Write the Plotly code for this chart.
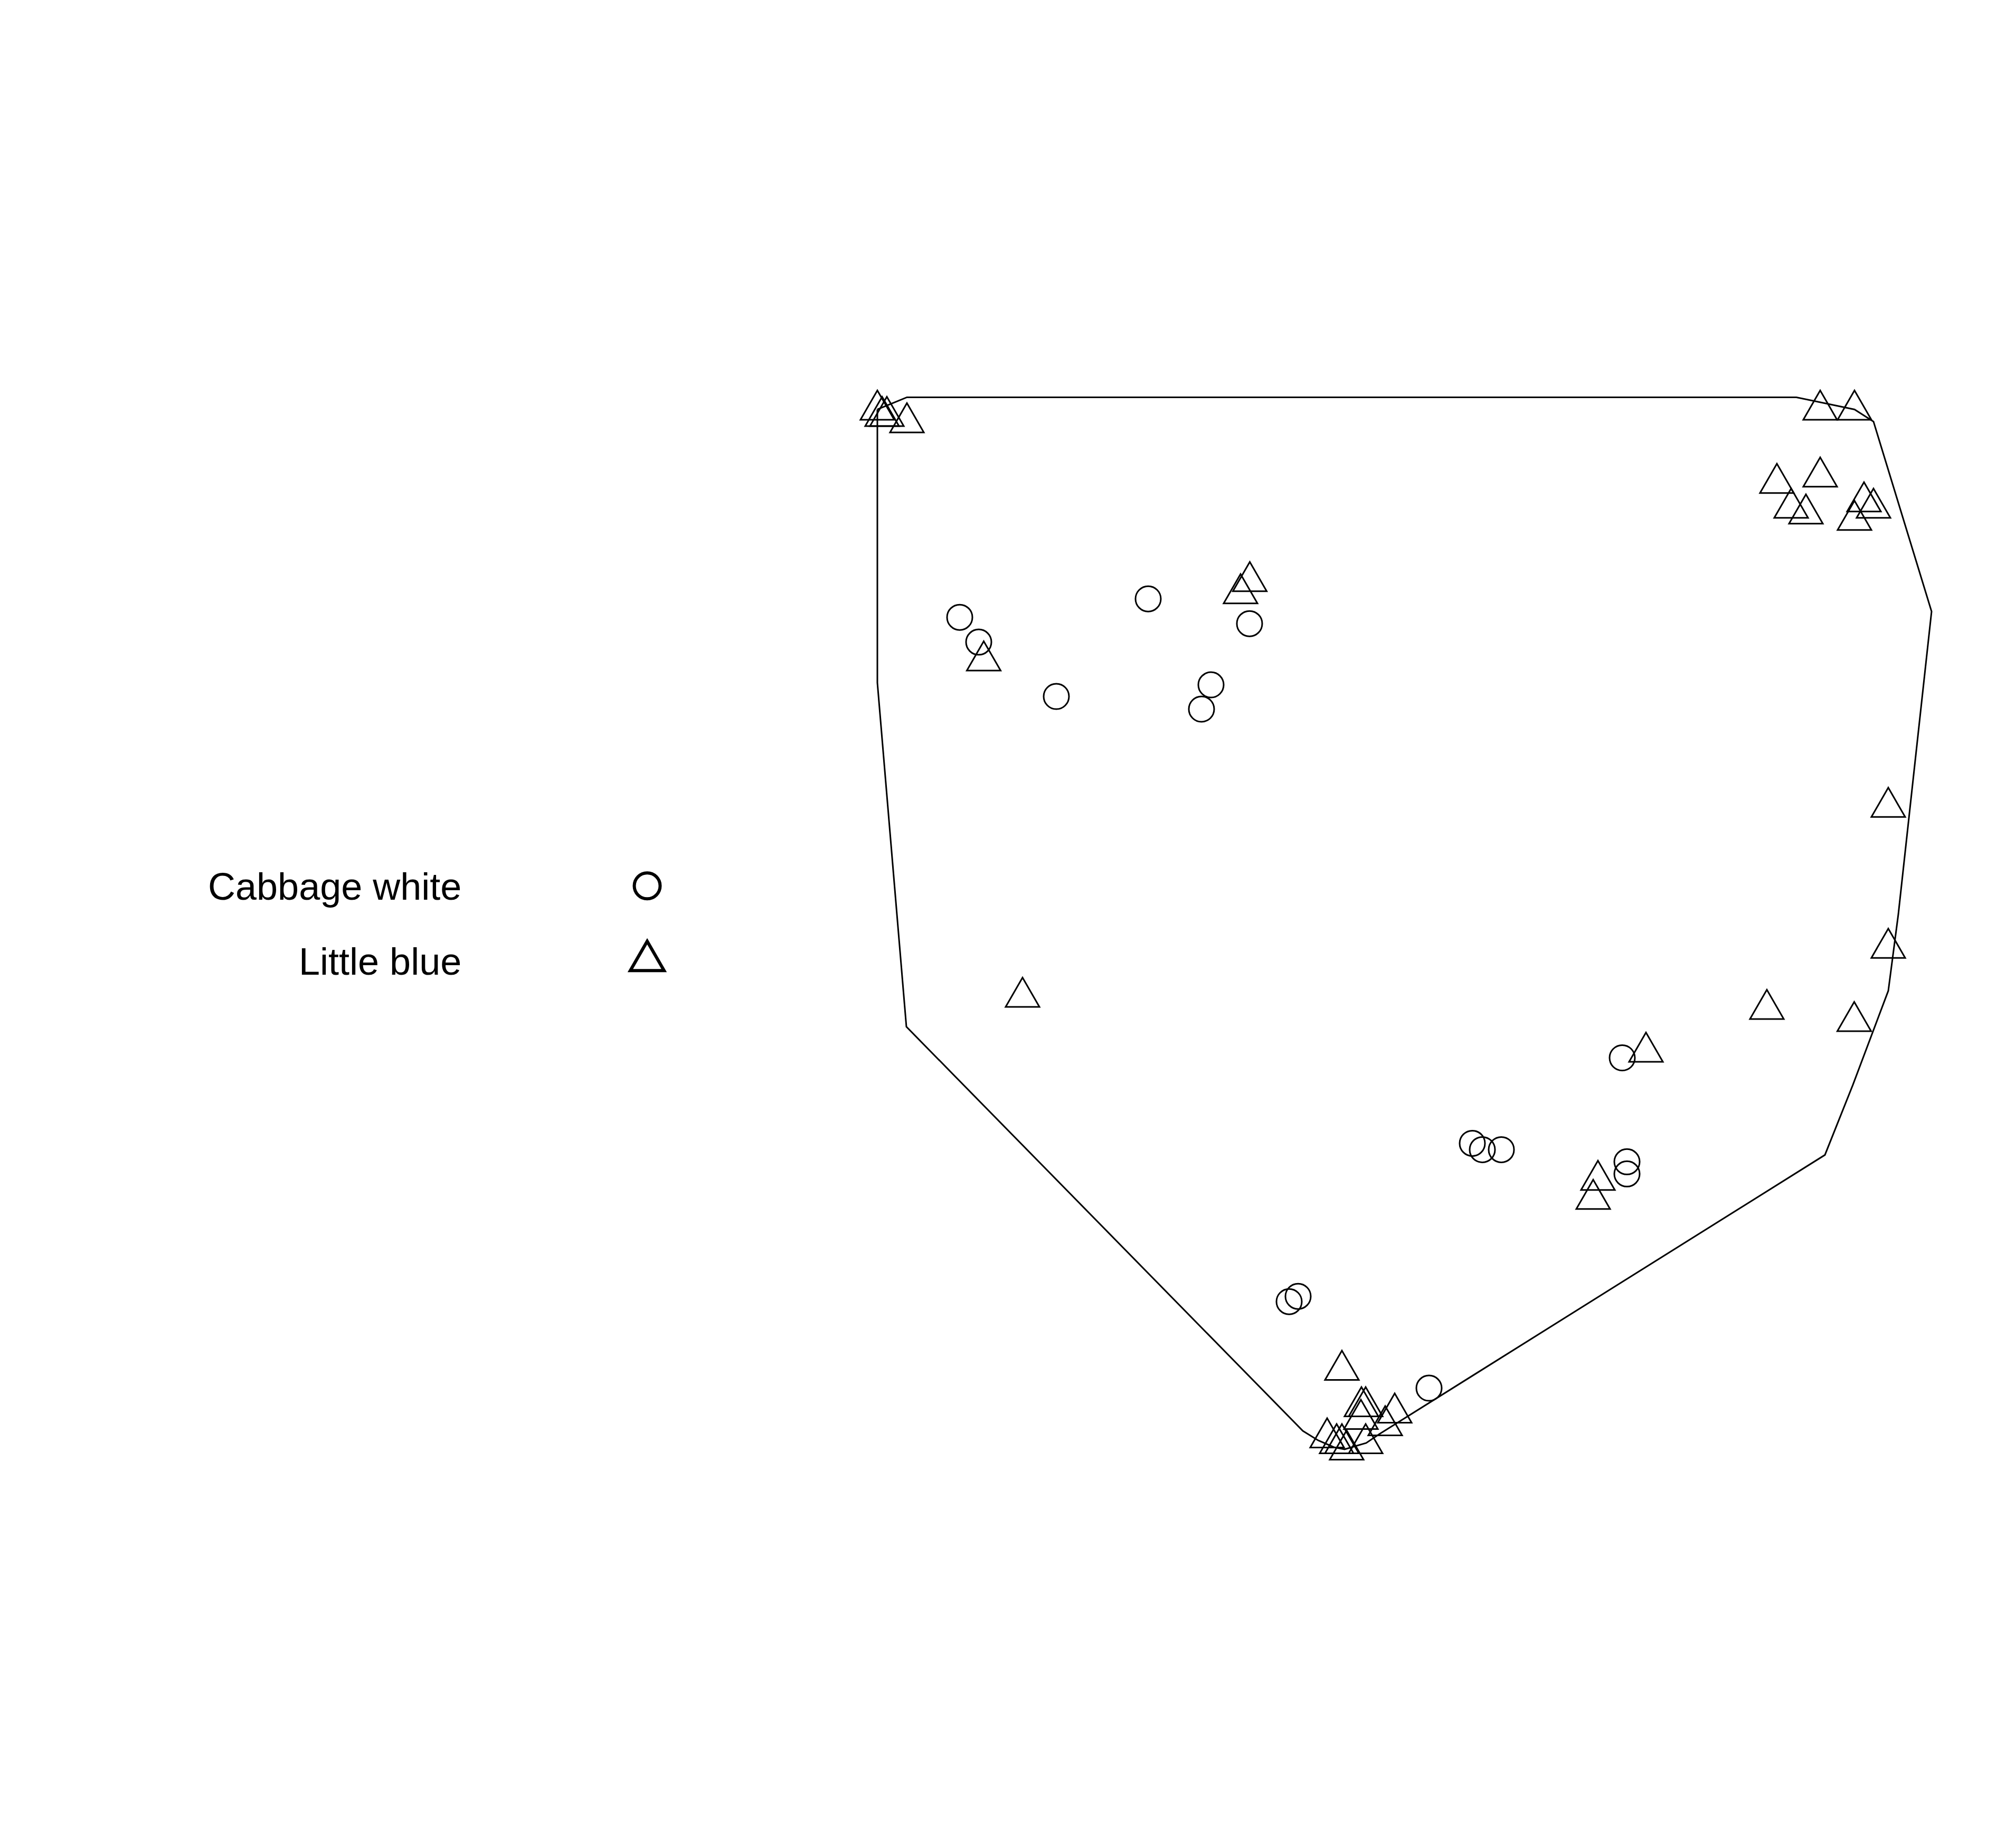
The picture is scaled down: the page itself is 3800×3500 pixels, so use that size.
import plotly.graph_objects as go

# Ordination scores (axis 1, axis 2)
white_x = [-0.682, -0.646, -0.325, -0.133, -0.499, -0.206, -0.224, 0.207, 0.289, 0.308, 0.344, 0.573, 0.582, 0.582, -0.041, -0.058]
white_y = [0.530, 0.483, 0.565, 0.518, 0.380, 0.402, 0.356, -0.931, -0.467, -0.479, -0.479, -0.305, -0.502, -0.525, -0.757, -0.767]

blue_x = [-0.838, -0.829, -0.820, -0.782, -0.6365, -0.1325, -0.150, 0.948, 1.013, 0.948, 0.866, 0.893, 0.921, 1.031, 1.049, 1.013,
          0.042, 0.079, 0.087, 0.078, 0.142, 0.124, 0.087, 0.014, 0.032, 0.042, 0.051,
          0.847, 1.0125, 1.077, 0.618, 0.527, 0.518, 1.077, -0.563]
blue_y = [0.924, 0.912, 0.912, 0.900, 0.4485, 0.599, 0.576, 0.924, 0.924, 0.797, 0.785, 0.738, 0.727, 0.750, 0.738, 0.715,
          -0.896, -0.965, -0.965, -0.989, -0.977, -1.001, -1.035, -1.024, -1.035, -1.035, -1.047,
          -0.212, -0.235, -0.096, -0.293, -0.536, -0.572, 0.171, -0.189]

hull_x = [-0.838, -0.782, 0.903, 1.013, 1.049, 1.159, 1.096, 1.077, 1.010, 0.957, 0.113, 0.088, 0.067, 0.047, 0.027, -0.003, -0.032, -0.783, -0.838, -0.838]
hull_y = [0.924, 0.947, 0.947, 0.924, 0.901, 0.541, -0.033, -0.178, -0.356, -0.489, -1.018, -1.035, -1.041, -1.047, -1.043, -1.030, -1.012, -0.246, 0.406, 0.924]

legend_labels = ["Cabbage white", "Little blue"]
legend_marker_x = [-1.274, -1.274]
legend_marker_y = [0.021, -0.121]
legend_label_x = -1.624
legend_label_y = [0.020, -0.122]

X_RANGE = [-2.492, 1.308]
Y_RANGE = [-1.8106, 1.692]
BLACK = "#000000"
# Pixel offsets of the triangle outlines; y points up in pixel-sized shapes.
TRIANGLE = "M-32,-19.5 L32,-19.5 L0,36 Z"
TRIANGLE_KEY = "M-32,-18.5 L32,-18.5 L0,37 Z"

fig = go.Figure()
fig.add_trace(go.Scatter(x=hull_x, y=hull_y, mode="lines", name="Hull",
                         line=dict(color=BLACK, width=3), showlegend=False))
fig.add_trace(go.Scatter(x=white_x, y=white_y, mode="markers", name=legend_labels[0], showlegend=False,
                         marker=dict(symbol="circle-open", size=48, color=BLACK, line=dict(width=3, color=BLACK))))
# Equilateral triangles (Plotly's own triangle symbol is squatter): the trace holds the data,
# the shapes draw the outline anchored on the data values.
fig.add_trace(go.Scatter(x=blue_x, y=blue_y, mode="markers", name=legend_labels[1], showlegend=False,
                         marker=dict(symbol="triangle-up", size=40, opacity=0)))
for x, y in zip(blue_x, blue_y):
    fig.add_shape(type="path", xref="x", yref="y", xsizemode="pixel", ysizemode="pixel",
                  xanchor=x, yanchor=y, path=TRIANGLE, line=dict(color=BLACK, width=3),
                  fillcolor="rgba(0,0,0,0)")

fig.add_trace(go.Scatter(x=legend_marker_x[:1], y=legend_marker_y[:1], mode="markers", showlegend=False,
                         hoverinfo="skip",
                         marker=dict(symbol="circle-open", size=49, color=BLACK, line=dict(width=6, color=BLACK))))
fig.add_shape(type="path", xref="x", yref="y", xsizemode="pixel", ysizemode="pixel",
              xanchor=legend_marker_x[1], yanchor=legend_marker_y[1], path=TRIANGLE_KEY,
              line=dict(color=BLACK, width=6), fillcolor="rgba(0,0,0,0)")
for label, y in zip(legend_labels, legend_label_y):
    fig.add_annotation(x=legend_label_x, y=y, xref="x", yref="y", text=label, showarrow=False,
                       xanchor="right", yanchor="middle",
                       font=dict(family="Liberation Sans", size=72, color=BLACK))

fig.update_xaxes(range=X_RANGE, visible=False, fixedrange=True)
fig.update_yaxes(range=Y_RANGE, visible=False, fixedrange=True)
fig.update_layout(width=3800, height=3500, margin=dict(l=0, r=0, t=0, b=0),
                  paper_bgcolor="white", plot_bgcolor="white", showlegend=False)
fig.write_html("out.html")
